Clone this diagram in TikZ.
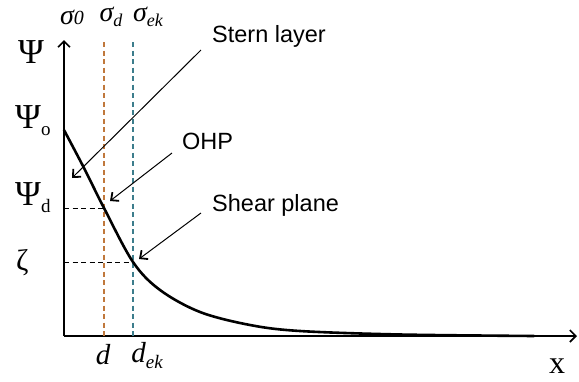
\documentclass[tikz,border=0pt]{standalone}
\usepackage{fontspec}
\setmainfont{Liberation Serif}
\setsansfont{Liberation Sans}
\usetikzlibrary{arrows.meta}
\definecolor{dorange}{HTML}{C0783C}
\definecolor{dteal}{HTML}{3C7D8C}
\tikzset{
  axis/.style={line width=1.3pt,-{Straight Barb[length=6pt,width=12pt,line width=1.6pt]}},
  pointer/.style={line width=1pt,-{Straight Barb[length=6pt,width=11pt,line width=1.8pt]}},
  guide/.style={line width=1.3pt,dash pattern=on 5pt off 3.5pt},
  hguide/.style={line width=1pt,dash pattern=on 5pt off 3.5pt},
  lab/.style={inner sep=0pt,font=\sffamily\fontsize{23.5}{28}\selectfont,anchor=west},
  greek/.style={inner sep=0pt,font=\fontsize{35}{40}\selectfont},
}
\begin{document}
\begin{tikzpicture}[x=1pt,y=-1pt]
\useasboundingbox (0,0) rectangle (579,381);
% axes
\coordinate (O) at (64,336);
\coordinate (Ytop) at (64,40);
\coordinate (Xend) at (577,336);
\draw[axis] (O) -- (Ytop);
\draw[axis] (O) -- (Xend);
% guides
\coordinate (Dtop) at (104,42);
\coordinate (Dbot) at (104,336);
\coordinate (Etop) at (133,42);
\coordinate (Ebot) at (133,336);
\draw[guide,dorange] (Dtop) -- (Dbot);
\draw[guide,dteal] (Etop) -- (Ebot);
\coordinate (Pd) at (104,208);
\coordinate (Pz) at (133,262);
\coordinate (Yd) at (64,208);
\coordinate (Yz) at (64,262);
\draw[hguide] (Yd) -- (Pd);
\draw[hguide] (Yz) -- (Pz);
% curve
\coordinate (P0) at (64,130);
\draw[line width=2.6pt,line cap=round] plot[smooth,tension=0.55] coordinates
  {(P0) (84,168) (Pd) (Pz) (160,290) (200,312) (250,325) (300,331) (400,334.5) (534,336)};
% labels
\node[greek] (psi) at (31,52) {Ψ};
\node[greek,anchor=west] (psi0) at (15,121) {Ψ\raisebox{-7pt}{\fontsize{19}{22}\selectfont o}};
\node[greek,anchor=west] (psid) at (15,198) {Ψ\raisebox{-7pt}{\fontsize{19}{22}\selectfont d}};
\node[greek,anchor=west,font=\fontsize{30}{34}\selectfont] (zeta) at (16,263) {ζ};
\node[inner sep=0pt,font=\fontsize{28}{32}\selectfont\itshape] (s0) at (72,17) {σ\fontsize{20}{23}\selectfont 0};
\node[inner sep=0pt,font=\fontsize{28}{32}\selectfont\itshape] (sd) at (111,17) {σ\raisebox{-5pt}{\fontsize{18}{21}\selectfont d}};
\node[inner sep=0pt,font=\fontsize{28}{32}\selectfont\itshape] (sek) at (148,17) {σ\raisebox{-5pt}{\fontsize{18}{21}\selectfont ek}};
\node[inner sep=0pt,font=\fontsize{29}{32}\selectfont\itshape] (dl) at (103,355) {d};
\node[inner sep=0pt,font=\fontsize{29}{32}\selectfont\itshape] (dek) at (147,356) {d\raisebox{-6pt}{\fontsize{19}{22}\selectfont ek}};
\node[inner sep=0pt,font=\fontsize{32}{34}\selectfont] (xl) at (557,366) {x};
% annotations
\node[lab] (stern) at (212,36) {Stern layer};
\node[lab] (ohp) at (182,141) {OHP};
\node[lab] (shear) at (212,205) {Shear plane};
\coordinate (sternS) at (201,50);
\coordinate (sternT) at (72,178);
\coordinate (ohpS) at (172,153);
\coordinate (ohpT) at (110,201);
\coordinate (shearS) at (201,213);
\coordinate (shearT) at (139,259);
\draw[pointer] (sternS) -- (sternT);
\draw[pointer] (ohpS) -- (ohpT);
\draw[pointer] (shearS) -- (shearT);
\end{tikzpicture}
\end{document}
